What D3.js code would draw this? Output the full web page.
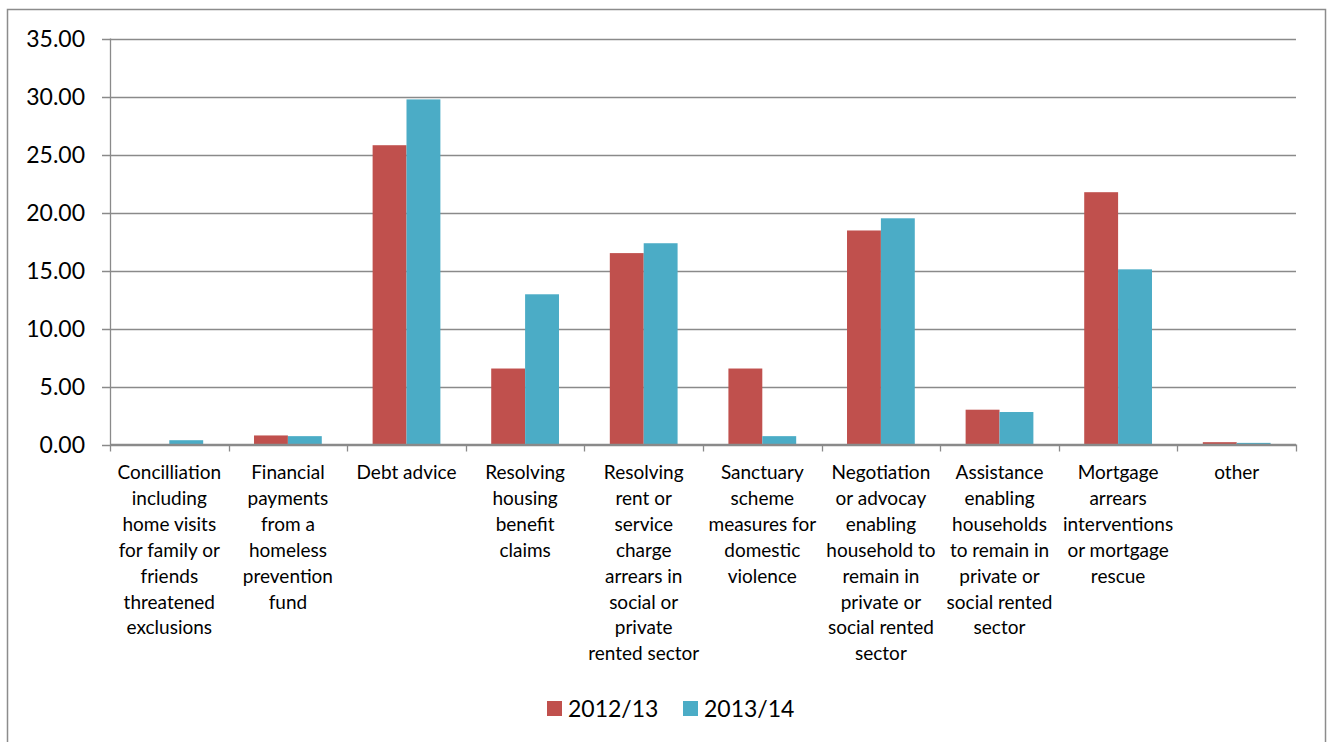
<!DOCTYPE html>
<html>
<head>
<meta charset="utf-8">
<script src="https://cdn.jsdelivr.net/npm/d3@7"></script>
<style>
  body { margin: 0; background: #fff; }
  text { font-family: Lato, "Open Sans", sans-serif; fill: #000; }
</style>
</head>
<body>
<svg width="1331" height="742"></svg>
<script>
// categories (line breaks follow the original label wrapping)
var categories = [
  "Concilliation\nincluding\nhome visits\nfor family or\nfriends\nthreatened\nexclusions",
  "Financial\npayments\nfrom a\nhomeless\nprevention\nfund",
  "Debt advice",
  "Resolving\nhousing\nbenefit\nclaims",
  "Resolving\nrent or\nservice\ncharge\narrears in\nsocial or\nprivate\nrented sector",
  "Sanctuary\nscheme\nmeasures for\ndomestic\nviolence",
  "Negotiation\nor advocay\nenabling\nhousehold to\nremain in\nprivate or\nsocial rented\nsector",
  "Assistance\nenabling\nhouseholds\nto remain in\nprivate or\nsocial rented\nsector",
  "Mortgage\narrears\ninterventions\nor mortgage\nrescue",
  "other"
];
var seriesNames = ["2012/13", "2013/14"];
var values2012 = [0, 0.78, 25.8, 6.55, 16.5, 6.55, 18.45, 3.0, 21.75, 0.2];
var values2013 = [0.37, 0.72, 29.75, 12.95, 17.35, 0.72, 19.5, 2.8, 15.1, 0.14];
var yTicks = [0, 5, 10, 15, 20, 25, 30, 35];
var colors = ["#C0504D", "#4BACC6"];

var svg = d3.select("svg");

// outer border
svg.append("rect")
    .attr("x", 7.5).attr("y", 9.5)
    .attr("width", 1318).attr("height", 740)
    .attr("fill", "none")
    .attr("stroke", "#8c8c8c")
    .attr("stroke-width", 1.5);

var plotLeft = 110, plotRight = 1296, plotTop = 38.5, plotBottom = 444.5;

var x = d3.scaleBand()
    .domain(d3.range(categories.length))
    .range([plotLeft, plotRight]);

var bw = x.bandwidth() / 3.5;

var y = d3.scaleLinear()
    .domain([0, 35])
    .range([plotBottom, plotTop]);

var g = svg.append("g");

// gridlines
g.selectAll(".grid")
    .data(yTicks)
    .enter().append("line")
    .attr("x1", plotLeft - 8).attr("x2", plotRight)
    .attr("y1", function(d) { return Math.round(y(d)) + 0.5; })
    .attr("y2", function(d) { return Math.round(y(d)) + 0.5; })
    .attr("stroke", "#8a8a8a")
    .attr("stroke-width", 1.3);

// y labels
g.selectAll(".ylab")
    .data(yTicks)
    .enter().append("text")
    .attr("x", 85)
    .attr("y", function(d) { return y(d); })
    .attr("dy", "0.35em")
    .attr("text-anchor", "end")
    .style("font-size", "23px")
    .text(function(d) { return d3.format(".2f")(d); });

// y axis line
g.append("line")
    .attr("x1", plotLeft + 0.5).attr("x2", plotLeft + 0.5)
    .attr("y1", plotTop).attr("y2", plotBottom)
    .attr("stroke", "#8a8a8a")
    .attr("stroke-width", 1.3);

// bars
var series = [values2012, values2013];
series.forEach(function(vals, s) {
  g.selectAll(".bar" + s)
      .data(vals)
      .enter().append("rect")
      .attr("x", function(d, i) { return x(i) + x.bandwidth() / 2 - bw + s * bw; })
      .attr("y", function(d) { return y(d); })
      .attr("width", bw)
      .attr("height", function(d) { return y(0) - y(d); })
      .attr("fill", colors[s]);
});

// x axis baseline and ticks
g.append("line")
    .attr("x1", plotLeft).attr("x2", plotRight)
    .attr("y1", plotBottom).attr("y2", plotBottom)
    .attr("stroke", "#8a8a8a")
    .attr("stroke-width", 1.5);

var tickPos = d3.range(categories.length + 1).map(function(i) {
  return i < categories.length ? x(i) : plotRight;
});
g.selectAll(".xtick")
    .data(tickPos)
    .enter().append("line")
    .attr("x1", function(d) { return Math.round(d) + 0.5; })
    .attr("x2", function(d) { return Math.round(d) + 0.5; })
    .attr("y1", plotBottom).attr("y2", plotBottom + 7)
    .attr("stroke", "#8a8a8a")
    .attr("stroke-width", 1.3);

// category labels
var labels = g.selectAll(".xlab")
    .data(categories)
    .enter().append("text")
    .attr("text-anchor", "middle")
    .style("font-size", "19px")
    .attr("transform", function(d, i) { return "translate(" + (x(i) + x.bandwidth() / 2) + ",479)"; });

labels.selectAll("tspan")
    .data(function(d) { return d.split("\n"); })
    .enter().append("tspan")
    .attr("x", 0)
    .attr("y", function(d, i) { return i * 25.9; })
    .text(function(d) { return d; });

// legend
var legend = svg.append("g");
var legendX = [547, 683];
seriesNames.forEach(function(name, s) {
  legend.append("rect")
      .attr("x", legendX[s]).attr("y", 701)
      .attr("width", 15).attr("height", 15)
      .attr("fill", colors[s]);
  legend.append("text")
      .attr("x", legendX[s] + 21)
      .attr("y", 717)
      .style("font-size", "23px")
      .text(name);
});
</script>
</body>
</html>
